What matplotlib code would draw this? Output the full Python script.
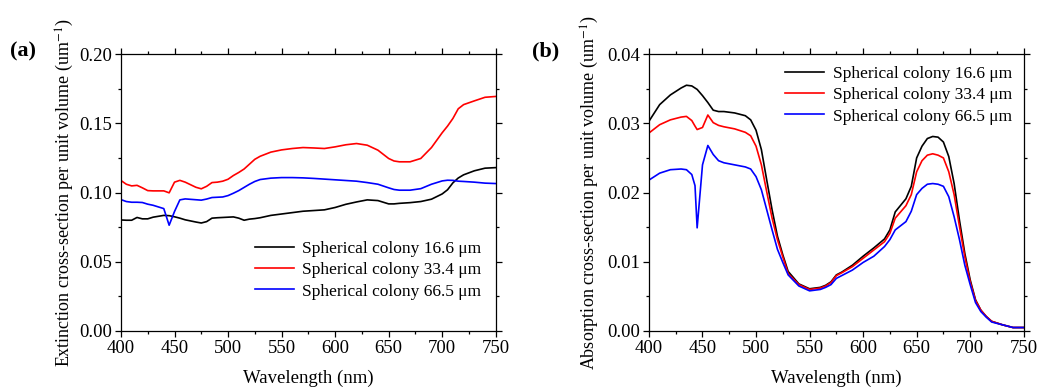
import matplotlib
matplotlib.use('Agg')
import matplotlib.pyplot as plt
from matplotlib.ticker import MultipleLocator, FormatStrFormatter

plt.rcParams['font.family'] = ['Liberation Serif', 'DejaVu Serif']
plt.rcParams['mathtext.fontset'] = 'stix'

labels = ['Spherical colony 16.6 \u03bcm', 'Spherical colony 33.4 \u03bcm', 'Spherical colony 66.5 \u03bcm']
colors = ['black', 'red', 'blue']

# (a) extinction
wl_a = [400, 405, 410, 415, 420, 425, 430, 440, 445, 450, 455, 460, 470, 475, 480, 485, 490, 495, 500, 505,
        510, 515, 520, 525, 530, 540, 550, 560, 570, 580, 590, 600, 610, 620, 630, 640, 650, 655, 660, 670,
        680, 690, 700, 705, 710, 715, 720, 730, 740, 750]
ext_166 = [0.0802, 0.0800, 0.0800, 0.0820, 0.0810, 0.0810, 0.0822, 0.0835, 0.0833, 0.0825, 0.0815, 0.0803, 0.0787, 0.0780, 0.0790, 0.0815, 0.0818, 0.0820, 0.0822, 0.0824,
           0.0815, 0.0800, 0.0808, 0.0812, 0.0818, 0.0835, 0.0845, 0.0855, 0.0865, 0.0870, 0.0875, 0.0892, 0.0915, 0.0932, 0.0947, 0.0942, 0.0918, 0.0918, 0.0922, 0.0927,
           0.0935, 0.0952, 0.0990, 0.1020, 0.1070, 0.1105, 0.1128, 0.1157, 0.1176, 0.1180]
ext_334 = [0.1087, 0.1060, 0.1048, 0.1052, 0.1034, 0.1014, 0.1012, 0.1012, 0.0998, 0.1075, 0.1088, 0.1075, 0.1038, 0.1027, 0.1045, 0.1072, 0.1075, 0.1082, 0.1096, 0.1123,
           0.1145, 0.1170, 0.1205, 0.1240, 0.1262, 0.1292, 0.1308, 0.1318, 0.1325, 0.1322, 0.1318, 0.1330, 0.1345, 0.1354, 0.1342, 0.1306, 0.1246, 0.1228, 0.1222, 0.1222,
           0.1246, 0.1325, 0.1432, 0.1480, 0.1535, 0.1605, 0.1635, 0.1662, 0.1688, 0.1694]
ext_665 = [0.0949, 0.0935, 0.0930, 0.0930, 0.0928, 0.0916, 0.0908, 0.0884, 0.0764, 0.0863, 0.0947, 0.0954, 0.0948, 0.0945, 0.0953, 0.0964, 0.0966, 0.0968, 0.0978, 0.0995,
           0.1014, 0.1037, 0.1060, 0.1080, 0.1094, 0.1104, 0.1108, 0.1108, 0.1106, 0.1102, 0.1097, 0.1092, 0.1087, 0.1082, 0.1072, 0.1060, 0.1034, 0.1022, 0.1017, 0.1017,
           0.1028, 0.1060, 0.1084, 0.1089, 0.1088, 0.1082, 0.1080, 0.1075, 0.1068, 0.1065]

# (b) absorption
wl_b = [400, 410, 420, 430, 435, 440, 443, 445, 450, 455, 460, 465, 470, 480, 490, 495, 500, 505, 510, 515,
        520, 525, 530, 540, 550, 560, 565, 570, 575, 580, 590, 600, 610, 620, 625, 630, 640, 645, 650, 655,
        660, 665, 670, 675, 680, 685, 690, 695, 700, 705, 710, 715, 720, 730, 740, 750]
abs_166 = [0.0303, 0.0327, 0.0341, 0.0351, 0.0355, 0.0354, 0.0351, 0.0349, 0.0340, 0.0330, 0.0319, 0.0317, 0.0317, 0.0315, 0.0311, 0.0305, 0.0290, 0.0262, 0.0218, 0.0175,
           0.0137, 0.0110, 0.0086, 0.0068, 0.0061, 0.0063, 0.0066, 0.0071, 0.0081, 0.0085, 0.0095, 0.0108, 0.0120, 0.0133, 0.0146, 0.0172, 0.0191, 0.0209, 0.0250, 0.0267,
           0.0278, 0.0281, 0.0280, 0.0273, 0.0252, 0.0213, 0.0160, 0.0112, 0.0074, 0.0045, 0.0030, 0.0021, 0.0014, 0.0009, 0.0005, 0.0005]
abs_334 = [0.0286, 0.0298, 0.0305, 0.0309, 0.0310, 0.0304, 0.0296, 0.0291, 0.0294, 0.0312, 0.0301, 0.0297, 0.0295, 0.0292, 0.0287, 0.0282, 0.0267, 0.0240, 0.0201, 0.0163,
           0.0132, 0.0107, 0.0083, 0.0067, 0.0060, 0.0062, 0.0065, 0.0070, 0.0080, 0.0084, 0.0093, 0.0105, 0.0117, 0.0129, 0.0141, 0.0163, 0.0181, 0.0197, 0.0230, 0.0246,
           0.0254, 0.0256, 0.0254, 0.0250, 0.0230, 0.0197, 0.0151, 0.0107, 0.0071, 0.0044, 0.0030, 0.0021, 0.0014, 0.0009, 0.0005, 0.0005]
abs_665 = [0.0218, 0.0228, 0.0233, 0.0234, 0.0233, 0.0226, 0.0210, 0.0149, 0.0240, 0.0268, 0.0255, 0.0246, 0.0243, 0.0240, 0.0237, 0.0234, 0.0223, 0.0204, 0.0175, 0.0146,
           0.0118, 0.0099, 0.0081, 0.0065, 0.0058, 0.0060, 0.0063, 0.0067, 0.0076, 0.0080, 0.0088, 0.0099, 0.0108, 0.0122, 0.0132, 0.0146, 0.0158, 0.0173, 0.0197, 0.0206,
           0.0212, 0.0213, 0.0212, 0.0209, 0.0194, 0.0165, 0.0132, 0.0095, 0.0067, 0.0041, 0.0028, 0.0020, 0.0013, 0.0009, 0.0005, 0.0005]

fig = plt.figure(figsize=(10.41, 3.9), dpi=100)
ax1 = fig.add_axes([0.1162, 0.1513, 0.360, 0.710])
ax2 = fig.add_axes([0.6234, 0.1513, 0.360, 0.710])


def style(ax):
    ax.set_xlim(400, 750)
    ax.xaxis.set_major_locator(MultipleLocator(50))
    ax.xaxis.set_minor_locator(MultipleLocator(25))
    ax.tick_params(which='both', direction='out', top=True, right=True, labelsize=13.5, width=0.9, pad=2.5)
    ax.tick_params(which='major', length=4)
    ax.tick_params(which='minor', length=2.5)
    for s in ax.spines.values():
        s.set_linewidth(0.9)
    ax.set_xlabel('Wavelength (nm)', fontsize=13.5)
    ax.xaxis.set_label_coords(0.5, -0.14)


for ys, c, lab in zip([ext_166, ext_334, ext_665], colors, labels):
    ax1.plot(wl_a, ys, color=c, lw=1.2, label=lab)
style(ax1)
ax1.set_ylim(0, 0.20)
ax1.yaxis.set_major_locator(MultipleLocator(0.05))
ax1.yaxis.set_minor_locator(MultipleLocator(0.025))
ax1.yaxis.set_major_formatter(FormatStrFormatter('%.2f'))
ax1.set_ylabel('Extinction cross-section per unit volume (um$^{-1}$)', fontsize=13)
ax1.yaxis.set_label_coords(-0.12, 0.5)
ax1.legend(loc='center left', bbox_to_anchor=(0.357, 0.22), frameon=False, fontsize=12.5,
           handlelength=2.25, handletextpad=0.5, labelspacing=0.3, borderpad=0, borderaxespad=0)
fig.text(0.0096, 1 - 51 / 390, '(a)', fontsize=16, fontweight='bold', va='center')

for ys, c, lab in zip([abs_166, abs_334, abs_665], colors, labels):
    ax2.plot(wl_b, ys, color=c, lw=1.2, label=lab)
style(ax2)
ax2.set_ylim(0, 0.04)
ax2.yaxis.set_major_locator(MultipleLocator(0.01))
ax2.yaxis.set_minor_locator(MultipleLocator(0.005))
ax2.yaxis.set_major_formatter(FormatStrFormatter('%.2f'))
ax2.set_ylabel('Absorption cross-section per unit volume (um$^{-1}$)', fontsize=13)
ax2.yaxis.set_label_coords(-0.128, 0.5)
ax2.legend(loc='center left', bbox_to_anchor=(0.363, 0.852), frameon=False, fontsize=12.5,
           handlelength=2.25, handletextpad=0.5, labelspacing=0.3, borderpad=0, borderaxespad=0)
fig.text(0.511, 1 - 51 / 390, '(b)', fontsize=16, fontweight='bold', va='center')

fig.savefig('out.png', dpi=100)
